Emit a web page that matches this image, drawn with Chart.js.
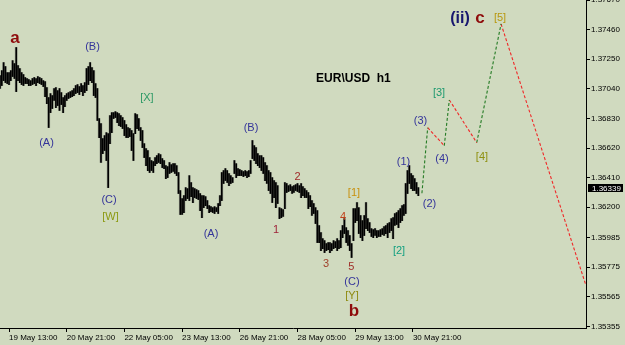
<!DOCTYPE html>
<html><head><meta charset="utf-8">
<script src="https://cdn.jsdelivr.net/npm/chart.js@4.4.1/dist/chart.umd.min.js"></script>
<style>html,body{margin:0;padding:0;background:#D0DABF;}#wrap{width:625px;height:345px;position:relative;}</style>
</head><body><div id="wrap"><canvas id="c" width="625" height="345"></canvas></div>
<script>
// ---- data (EUR/USD h1) ----
const firstBar = -5; // bar index of first visible bar (0 = 19 May 13:00)
const barHigh = [
1.37134,1.37169,1.37226,1.37198,1.37155,
1.37155,1.37169,1.37240,1.37219,1.37333,1.37205,1.37184,1.37155,1.37141,1.37120,
1.37113,1.37106,1.37098,1.37113,1.37120,1.37113,1.37127,1.37120,1.37113,1.37098,
1.37091,1.37049,1.36978,1.37006,1.36992,1.37042,1.37049,1.37027,1.37042,1.37013,
1.36978,1.36992,1.37006,1.37013,1.37020,1.37027,1.37042,1.37063,1.37070,1.37056,
1.37077,1.37063,1.37084,1.37184,1.37198,1.37226,1.37191,1.37169,1.37077,1.37042,
1.36829,1.36793,1.36687,1.36708,1.36729,1.36722,1.36850,1.36871,1.36871,1.36878,
1.36871,1.36864,1.36850,1.36836,1.36815,1.36786,1.36765,1.36758,1.36744,1.36722,
1.36864,1.36857,1.36829,1.36765,1.36744,1.36651,1.36616,1.36602,1.36552,1.36531,
1.36524,1.36552,1.36566,1.36580,1.36573,1.36545,1.36531,1.36495,1.36488,1.36517,
1.36502,1.36509,1.36509,1.36495,1.36446,1.36318,1.36261,1.36282,1.36339,1.36332,
1.36424,1.36375,1.36339,1.36332,1.36325,1.36318,1.36297,1.36282,1.36282,1.36275,
1.36247,1.36211,1.36204,1.36197,1.36204,1.36197,1.36226,1.36282,1.36446,1.36460,
1.36474,1.36460,1.36439,1.36424,1.36410,1.36531,1.36509,1.36474,1.36467,1.36460,
1.36453,1.36460,1.36453,1.36460,1.36531,1.36673,1.36637,1.36623,1.36580,1.36566,
1.36566,1.36552,1.36517,1.36495,1.36460,1.36446,1.36410,1.36389,1.36375,1.36353,
1.36197,1.36190,1.36183,1.36375,1.36368,1.36353,1.36360,1.36346,1.36353,1.36360,
1.36368,1.36353,1.36368,1.36346,1.36332,1.36318,1.36304,1.36282,1.36247,1.36226,
1.36197,1.36176,1.36070,1.36020,1.35977,1.35963,1.35942,1.35949,1.35949,1.35942,
1.35963,1.35956,1.35977,1.35963,1.36034,1.36070,1.36119,1.36055,1.36034,1.35999,
1.35942,1.36190,1.36190,1.36233,1.36197,1.36141,1.36105,1.36141,1.36233,1.36119,
1.36091,1.36048,1.36041,1.36048,1.36034,1.36034,1.36041,1.36048,1.36062,1.36070,
1.36084,1.36091,1.36119,1.36126,1.36155,1.36162,1.36176,1.36190,1.36211,1.36219,
1.36368,1.36460,1.36495,1.36439,1.36424,1.36403,1.36375,1.36339
];
const barLow = [
1.37042,1.37063,1.37098,1.37084,1.37077,
1.37070,1.37098,1.37127,1.37113,1.37020,1.37098,1.37084,1.37070,1.37063,1.37077,
1.37077,1.37063,1.37063,1.37070,1.37077,1.37063,1.37084,1.37077,1.37070,1.37056,
1.36985,1.36935,1.36765,1.36871,1.36900,1.36957,1.36907,1.36921,1.36886,1.36928,
1.36871,1.36914,1.36957,1.36971,1.36978,1.36985,1.36992,1.37006,1.37013,1.36999,
1.37020,1.36992,1.37013,1.37027,1.37070,1.37098,1.37084,1.36992,1.36978,1.36815,
1.36694,1.36517,1.36580,1.36602,1.36531,1.36339,1.36651,1.36729,1.36829,1.36836,
1.36800,1.36779,1.36772,1.36758,1.36708,1.36694,1.36694,1.36701,1.36602,1.36531,
1.36722,1.36758,1.36744,1.36673,1.36623,1.36552,1.36495,1.36460,1.36446,1.36460,
1.36446,1.36495,1.36509,1.36517,1.36509,1.36481,1.36474,1.36403,1.36410,1.36439,
1.36446,1.36453,1.36439,1.36424,1.36297,1.36148,1.36148,1.36162,1.36247,1.36261,
1.36247,1.36275,1.36233,1.36268,1.36261,1.36254,1.36176,1.36126,1.36197,1.36211,
1.36190,1.36162,1.36169,1.36162,1.36155,1.36169,1.36155,1.36211,1.36247,1.36368,
1.36389,1.36375,1.36353,1.36368,1.36375,1.36439,1.36410,1.36424,1.36424,1.36424,
1.36417,1.36424,1.36410,1.36417,1.36439,1.36545,1.36531,1.36509,1.36495,1.36481,
1.36460,1.36439,1.36389,1.36368,1.36318,1.36297,1.36233,1.36268,1.36197,1.36226,
1.36119,1.36126,1.36134,1.36190,1.36304,1.36311,1.36318,1.36297,1.36304,1.36318,
1.36311,1.36304,1.36268,1.36282,1.36268,1.36268,1.36190,1.36204,1.36141,1.36155,
1.36084,1.35949,1.35949,1.35892,1.35906,1.35878,1.35892,1.35899,1.35878,1.35892,
1.35906,1.35913,1.35892,1.35906,1.35913,1.35984,1.36013,1.35949,1.35928,1.35892,
1.35843,1.35963,1.36091,1.36105,1.36013,1.35984,1.35963,1.35999,1.36048,1.36034,
1.36020,1.35992,1.35984,1.35999,1.35984,1.35992,1.35992,1.36006,1.35999,1.36013,
1.35984,1.36020,1.36034,1.35977,1.36070,1.36077,1.36055,1.36091,1.36105,1.36141,
1.36155,1.36297,1.36368,1.36332,1.36318,1.36318,1.36297,1.36282
];
const lastPrice = 1.36339;

const timeTickIndex = [0, 32, 64, 96, 128, 160, 192, 224];
const timeTickLabels = ['19 May 13:00','20 May 21:00','22 May 05:00','23 May 13:00','26 May 21:00','28 May 05:00','29 May 13:00','30 May 21:00'];
const priceTicks = [1.37670,1.37460,1.37250,1.37040,1.36830,1.36620,1.36410,1.36200,1.35985,1.35775,1.35565,1.35355];

// projected wave path (bar index, price)
const projIndex = [229.0, 232.2, 241.4, 244.2, 259.4, 272.9, 320];
const projPrice = [1.36299, 1.36764, 1.36636, 1.36961, 1.36658, 1.37500, 1.35644];

// wave labels
const waveText  = ['a','(A)','(B)','[X]','(C)','[W]','(A)','(B)','1','2','3','4','5','(C)','[Y]','b','[1]','[2]','(1)','(2)','(3)','(4)','[3]','[4]','[5]','(ii)','c'];
const waveIndex = [3.3,20.8,46.3,76.5,55.5,56.3,112.0,134.2,148.1,160.0,175.8,185.2,189.9,190.2,190.2,191.3,191.3,216.3,218.8,233.2,228.2,240.1,238.5,262.3,272.3,250.1,261.2];
const wavePrice = [1.37400,1.36655,1.37337,1.36975,1.36251,1.36134,1.36010,1.36762,1.36038,1.36414,1.35797,1.36130,1.35776,1.35669,1.35570,1.35464,1.36304,1.35889,1.36521,1.36223,1.36815,1.36545,1.37007,1.36553,1.37546,1.37535,1.37542];
const waveKind  = ['big','par','par','X','par','W','par','par','n1','n2','n3','n4','n5','par','Y','big','b1','b2','par','par','par','par','b3','b4','b5','deg','big'];
const titleText = 'EUR\\USD  h1';
const titleIndex = 191.0, titlePrice = 1.37113;

// ---- styles ----
const BG = '#D0DABF';
const FONT = '"Liberation Sans", Arial, sans-serif';
const kindStyle = {
  big: ['bold 17px ' + FONT, '#8E0B0B'],
  deg: ['bold 16px ' + FONT, '#16166E'],
  par: ['11px ' + FONT, '#34349A'],
  n1: ['11px ' + FONT, '#9E2238'],
  n2: ['11px ' + FONT, '#A02A2A'],
  n3: ['11px ' + FONT, '#A0402A'],
  n4: ['11px ' + FONT, '#C0401A'],
  n5: ['11px ' + FONT, '#A0302A'],
  W: ['11px ' + FONT, '#8C9A12'],
  X: ['11px ' + FONT, '#2E9A66'],
  Y: ['11px ' + FONT, '#8E8A10'],
  b1: ['11px ' + FONT, '#C8900E'],
  b2: ['11px ' + FONT, '#14A080'],
  b3: ['11px ' + FONT, '#1E9A70'],
  b4: ['11px ' + FONT, '#8E9010'],
  b5: ['11px ' + FONT, '#B8980E']
};

const barData = barHigh.map((h, k) => ({x: firstBar + k, y: [barLow[k], h]}));

const datasets = [
  {type:'bar', data: barData, backgroundColor:'rgba(70,70,70,0.35)', barThickness:2.2, grouped:false, order:3},
  {type:'bar', data: barData, backgroundColor:'#000000', barThickness:1, grouped:false, order:2}
];
for (let k = 0; k < projIndex.length - 1; k++) {
  datasets.push({
    type:'line',
    data:[{x:projIndex[k], y:projPrice[k]}, {x:projIndex[k+1], y:projPrice[k+1]}],
    borderColor: k % 2 === 0 ? '#237A23' : '#F02828',
    borderWidth: 1.1, borderDash:[3,2], pointRadius:0, fill:false, tension:0, order:1
  });
}

const bgPlugin = {
  id:'bg',
  beforeDraw(chart){ const c = chart.ctx; c.save(); c.fillStyle = BG; c.fillRect(0,0,chart.width,chart.height); c.restore(); }
};
const labelPlugin = {
  id:'labels',
  afterDraw(chart){
    const c = chart.ctx, xs = chart.scales.x, ys = chart.scales.y;
    c.save();
    c.textAlign = 'center'; c.textBaseline = 'middle';
    for (let k = 0; k < waveText.length; k++) {
      const st = kindStyle[waveKind[k]];
      c.font = st[0]; c.fillStyle = st[1];
      c.fillText(waveText[k], xs.getPixelForValue(waveIndex[k]), ys.getPixelForValue(wavePrice[k]));
    }
    c.font = 'bold 12px ' + FONT; c.fillStyle = '#000';
    c.fillText(titleText, xs.getPixelForValue(titleIndex), ys.getPixelForValue(titlePrice));
    // current price marker
    const py = ys.getPixelForValue(lastPrice);
    const x0 = chart.chartArea.right + 2;
    c.fillStyle = '#000';
    c.fillRect(x0, Math.round(py) - 4, 35, 8);
    c.fillStyle = '#fff'; c.font = '8px ' + FONT; c.textAlign = 'left';
    c.fillText(lastPrice.toFixed(5), x0 + 4, Math.round(py) + 0.5);
    c.restore();
  }
};

new Chart(document.getElementById('c'), {
  type:'bar',
  data:{datasets},
  options:{
    responsive:false, animation:false, devicePixelRatio:1,
    layout:{padding:0},
    plugins:{legend:{display:false}, tooltip:{enabled:false}},
    scales:{
      x:{
        type:'linear', position:'bottom', min:-5, max:320, offset:false,
        grid:{drawOnChartArea:false, drawTicks:true, tickLength:4, color:'#000', offset:false},
        border:{display:true, color:'#000', width:1},
        ticks:{font:{family:FONT, size:8}, color:'#000', align:'start', maxRotation:0, autoSkip:false, padding:1,
          callback:(v)=>{ const k = timeTickIndex.indexOf(v); return k >= 0 ? timeTickLabels[k] : ''; }},
        afterBuildTicks:(s)=>{ s.ticks = timeTickIndex.map(v=>({value:v})); },
        afterFit:(s)=>{ s.height = 17; s.paddingLeft = 0; s.paddingRight = 0; }
      },
      y:{
        type:'linear', position:'right', min:1.35343, max:1.37670,
        grid:{drawOnChartArea:false, drawTicks:true, tickLength:4, color:'#000'},
        border:{display:true, color:'#000', width:1},
        ticks:{font:{family:FONT, size:8}, color:'#000', padding:1, autoSkip:false,
          callback:(v)=>Number(v).toFixed(5)},
        afterBuildTicks:(s)=>{ s.ticks = priceTicks.map(v=>({value:v})); },
        afterFit:(s)=>{ s.width = 39; s.paddingTop = 0; s.paddingBottom = 0; }
      }
    }
  },
  plugins:[bgPlugin, labelPlugin]
});
</script>
</body></html>
